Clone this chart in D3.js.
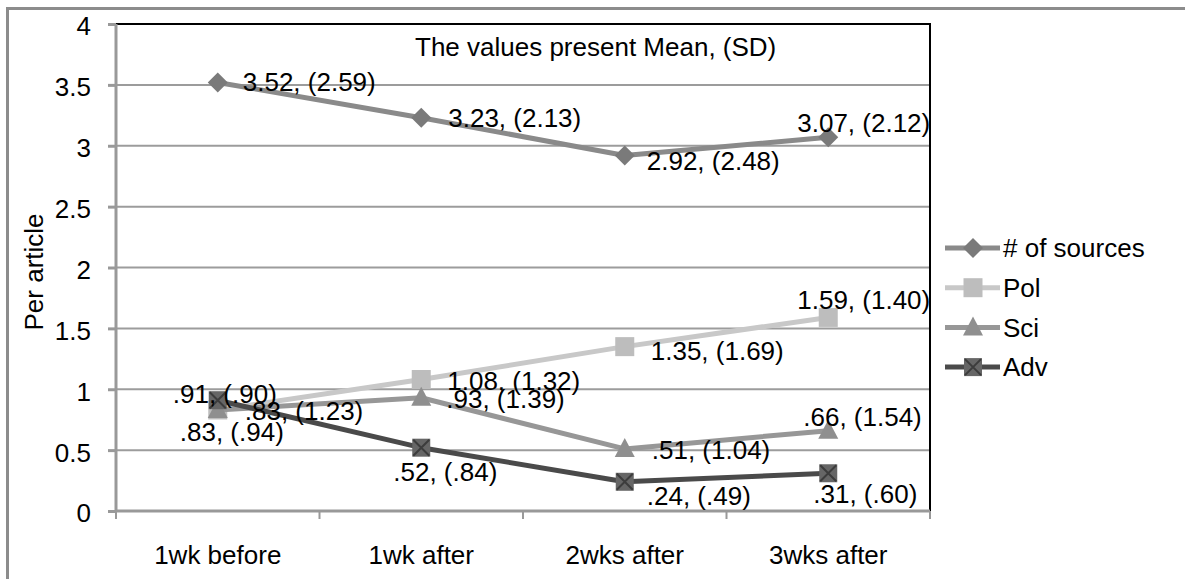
<!DOCTYPE html>
<html>
<head>
<meta charset="utf-8">
<script src="https://cdn.jsdelivr.net/npm/d3@7"></script>
<style>
  body { margin: 0; background: #fff; }
  svg { display: block; font-family: "Liberation Sans", Arial, sans-serif; }
</style>
</head>
<body>
<svg id="chart"></svg>
<script>
// data
const weeks = ['1wk before', '1wk after', '2wks after', '3wks after'];
const seriesNames = ['# of sources', 'Pol', 'Sci', 'Adv'];
const sourcesMean = [3.52, 3.23, 2.92, 3.07];
const sourcesSD = ['2.59', '2.13', '2.48', '2.12'];
const polMean = [0.83, 1.08, 1.35, 1.59];
const polSD = ['.94', '1.32', '1.69', '1.40'];
const sciMean = [0.83, 0.93, 0.51, 0.66];
const sciSD = ['1.23', '1.39', '1.04', '1.54'];
const advMean = [0.91, 0.52, 0.24, 0.31];
const advSD = ['.90', '.84', '.49', '.60'];
const yTicks = [0, 0.5, 1, 1.5, 2, 2.5, 3, 3.5, 4];

const width = 1185, height = 579;
const margin = {top: 24, right: 255, bottom: 66, left: 116};

// label placement: [dx from point to text start, dy of text centre]
const labelOffsets = [
  [[25, -1], [27, 0], [22, 5], [-31, -15]],
  [[-38, 22], [26, 1], [26, 4], [-31, -18]],
  [[27, 1], [25, 1], [27, 1], [-25, -14]],
  [[-45, -7], [-28, 24], [22, 14], [-15, 20]]
];

const styles = [
  {line: '#8a8a8a', fill: '#7a7a7a', shape: 'diamond'},
  {line: '#c8c8c8', fill: '#bdbdbd', shape: 'square'},
  {line: '#979797', fill: '#8f8f8f', shape: 'triangle'},
  {line: '#4a4a4a', fill: '#666666', shape: 'xsquare'}
];

const series = [
  {name: seriesNames[0], mean: sourcesMean, sd: sourcesSD},
  {name: seriesNames[1], mean: polMean, sd: polSD},
  {name: seriesNames[2], mean: sciMean, sd: sciSD},
  {name: seriesNames[3], mean: advMean, sd: advSD}
];

const fmt = v => {
  let s = v.toFixed(2);
  return s.startsWith('0') ? s.slice(1) : s;
};

const svg = d3.select('#chart')
  .attr('width', width)
  .attr('height', height);

// outer frame
svg.append('rect')
  .attr('x', 7.5).attr('y', 8.5)
  .attr('width', 1400).attr('height', 800)
  .attr('fill', 'none')
  .attr('stroke', '#8c8c8c')
  .attr('stroke-width', 3);

const w = width - margin.left - margin.right;
const h = height - margin.top - margin.bottom - 2;

const x = d3.scaleBand().domain(weeks).range([0, w]);
const y = d3.scaleLinear().domain([0, 4]).range([h, 0]);

const chart = svg.append('g')
  .attr('transform', `translate(${margin.left},${margin.top})`);

// gridlines
chart.selectAll('.grid')
  .data(yTicks.filter(d => d > 0 && d < 4))
  .enter().append('line')
  .attr('x1', 0).attr('x2', w)
  .attr('y1', d => y(d)).attr('y2', d => y(d))
  .attr('stroke', '#9c9c9c')
  .attr('stroke-width', 2);

// top and right black border
chart.append('path')
  .attr('d', `M0,${y(4)}H${w}V${y(0)}`)
  .attr('fill', 'none')
  .attr('stroke', '#000')
  .attr('stroke-width', 2);

// y axis
const yAxis = chart.append('g')
  .call(d3.axisLeft(y).tickValues(yTicks).tickSize(8).tickPadding(17)
    .tickFormat(d => d));
yAxis.select('.domain').remove();
yAxis.append('line').attr('x1', 0).attr('x2', 0).attr('y1', y(4)).attr('y2', y(0) + 1);
yAxis.selectAll('line').attr('stroke', '#999').attr('stroke-width', 3);
yAxis.selectAll('text')
  .attr('font-size', 26)
  .attr('fill', '#000')
  .attr('font-family', '"Liberation Sans", Arial, sans-serif')
  .attr('dy', '0.42em');

// x axis
const xAxis = chart.append('g')
  .attr('transform', `translate(0,${h})`);
xAxis.append('line')
  .attr('x1', 0).attr('x2', w)
  .attr('stroke', '#999').attr('stroke-width', 3);
xAxis.selectAll('.xtick')
  .data(weeks.map(d => x(d)).concat([w]))
  .enter().append('line')
  .attr('x1', d => d).attr('x2', d => d)
  .attr('y1', 0).attr('y2', 8)
  .attr('stroke', '#999').attr('stroke-width', 2);
xAxis.selectAll('.xlab')
  .data(weeks)
  .enter().append('text')
  .attr('x', d => x(d) + x.bandwidth() / 2)
  .attr('y', 53)
  .attr('text-anchor', 'middle')
  .attr('font-size', 26)
  .text(d => d);

// y title
svg.append('text')
  .attr('transform', 'translate(43,272) rotate(-90)')
  .attr('text-anchor', 'middle')
  .attr('font-size', 26)
  .text('Per article');

// annotation
svg.append('text')
  .attr('x', 415).attr('y', 56)
  .attr('font-size', 26)
  .text('The values present Mean, (SD)');

const cx = d => x(d) + x.bandwidth() / 2;
const line = d3.line().x(d => cx(d.week)).y(d => y(d.v));

function drawMarker(g, shape, st) {
  if (shape === 'diamond') {
    g.append('path').attr('d', 'M0,-10L10,0L0,10L-10,0Z').attr('fill', st.fill);
  } else if (shape === 'square') {
    g.append('rect').attr('x', -9.5).attr('y', -9.5).attr('width', 19).attr('height', 19).attr('fill', st.fill);
  } else if (shape === 'triangle') {
    g.append('path').attr('d', 'M0,-11L10,8L-10,8Z').attr('fill', st.fill);
  } else {
    g.append('rect').attr('x', -9).attr('y', -9).attr('width', 18).attr('height', 18).attr('fill', st.fill);
    g.append('path').attr('d', 'M-8,-8L8,8M8,-8L-8,8').attr('stroke', '#3c3c3c').attr('stroke-width', 2);
  }
}

series.forEach((s, i) => {
  const pts = weeks.map((wk, j) => ({week: wk, v: s.mean[j]}));
  chart.append('path')
    .datum(pts)
    .attr('d', line)
    .attr('fill', 'none')
    .attr('stroke', styles[i].line)
    .attr('stroke-width', 5)
    .attr('stroke-linejoin', 'round');
  chart.selectAll('.m' + i)
    .data(pts)
    .enter().append('g')
    .attr('transform', d => `translate(${cx(d.week)},${y(d.v)})`)
    .each(function () { drawMarker(d3.select(this), styles[i].shape, styles[i]); });
});

// data labels on top
series.forEach((s, i) => {
  chart.selectAll('.l' + i)
    .data(weeks)
    .enter().append('text')
    .attr('x', (d, j) => cx(d) + labelOffsets[i][j][0])
    .attr('y', (d, j) => y(s.mean[j]) + labelOffsets[i][j][1])
    .attr('dy', '0.36em')
    .attr('font-size', 26)
    .text((d, j) => `${fmt(s.mean[j])}, (${s.sd[j]})`);
});

// legend
const legend = svg.append('g').attr('transform', 'translate(945,248)');
series.forEach((s, i) => {
  const g = legend.append('g').attr('transform', `translate(0,${i * 39.7})`);
  g.append('line').attr('x1', 0).attr('x2', 55)
    .attr('stroke', styles[i].line).attr('stroke-width', 5);
  drawMarker(g.append('g').attr('transform', 'translate(28,0)'), styles[i].shape, styles[i]);
  g.append('text').attr('x', 58).attr('dy', '0.36em')
    .attr('font-size', 26).text(s.name);
});
</script>
</body>
</html>
